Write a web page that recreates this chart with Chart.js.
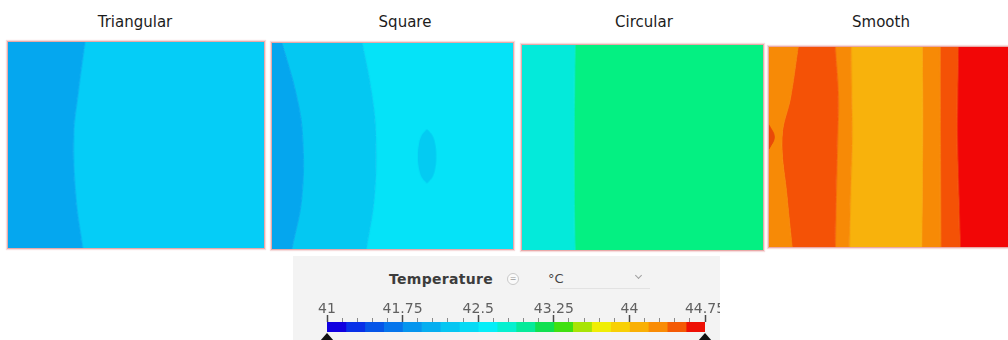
<!DOCTYPE html>
<html>
<head>
<meta charset="utf-8">
<script src="https://cdn.jsdelivr.net/npm/chart.js@4.4.0/dist/chart.umd.min.js"></script>
<style>
  html, body { margin: 0; padding: 0; background: #fff; }
  body { width: 1008px; height: 340px; position: relative; overflow: hidden; font-family: 'DejaVu Sans', sans-serif; }
  .title { position: absolute; top: 13px; width: 200px; text-align: center; font-size: 15px; line-height: 18px; color: #1c1c1c; }
  .panel { position: absolute; border: 1px solid #e9a9a9; box-shadow: 0 0 1px 1px rgba(242, 205, 205, 0.7); }
  #legendBox { position: absolute; left: 293px; top: 256px; width: 427px; height: 84px; background: #f3f3f3; overflow: hidden; }
  #legendBox .lbl { position: absolute; top: 14px; font-size: 13px; line-height: 18px; }
  #qty { left: 96px; font-size: 14px !important; font-weight: bold; color: #3c3c3c; letter-spacing: 0.3px; }
  #unit { left: 255px; color: #444; }
  #icon { position: absolute; left: 214px; top: 17px; width: 10px; height: 10px; border: 1px solid #c9c9c9; border-radius: 50%; font-size: 8px; line-height: 10px; text-align: center; color: #999; background: #fafafa; }
  #chev { position: absolute; left: 343px; top: 17px; width: 4px; height: 4px; border-right: 1px solid #a0a0a0; border-bottom: 1px solid #a0a0a0; transform: rotate(45deg); }
  #uline { position: absolute; left: 257px; top: 32px; width: 100px; height: 1px; background: #e2e2e2; }
  #scaleBar { position: absolute; left: 0; top: 40px; }
  .handle { position: absolute; top: 77px; width: 0; height: 0; border-left: 7px solid transparent; border-right: 7px solid transparent; border-bottom: 8px solid #111; }
</style>
</head>
<body>
<div class="title" style="left:35px">Triangular</div>
<div class="title" style="left:305px">Square</div>
<div class="title" style="left:544px">Circular</div>
<div class="title" style="left:781px">Smooth</div>

<canvas id="triangular" class="panel" width="258" height="208" style="left:7px; top:41px"></canvas>
<canvas id="square" class="panel" width="243" height="208" style="left:271px; top:42px"></canvas>
<canvas id="circular" class="panel" width="243" height="207" style="left:521px; top:44px"></canvas>
<canvas id="smooth" class="panel" width="241" height="202" style="left:768px; top:46px"></canvas>

<div id="legendBox">
  <div id="qty" class="lbl">Temperature</div>
  <div id="icon">=</div>
  <div id="unit" class="lbl">°C</div>
  <div id="chev"></div>
  <div id="uline"></div>
  <canvas id="scaleBar" width="467" height="44"></canvas>
  <div class="handle" style="left:27px"></div>
  <div class="handle" style="left:405px"></div>
</div>

<script>
// plate depth (0 = top edge, 100 = bottom edge) where contour edges were read
const depth = [0, 25, 45, 75, 100];
const plateLeft = [0, 0, 0, 0, 0];
const plateRight = [100, 100, 100, 100, 100];

// contour edges, % of plate width, left to right
const triEdges = [[30, 27.3, 25.6, 26.4, 29.1]];
const triColors = ['#05a7ef', '#05cdf7'];

const squareEdges = [
    [4.1, 10.0, 12.6, 12.3, 8.2],
    [37.4, 41.4, 43.0, 42.4, 39.1]
];
const squareColors = ['#05a6ee', '#04c8f2', '#05e3f8'];
const squareSpotDepth = [42, 45, 50, 55, 60, 65, 68];
const squareSpotLeft = [64.2, 62.0, 60.8, 60.5, 60.8, 62.0, 64.2];
const squareSpotRight = [64.2, 66.4, 67.6, 67.9, 67.6, 66.4, 64.2];

const circEdges = [[21.9, 21.7, 21.5, 21.6, 21.9]];
const circColors = ['#04eada', '#04f082'];

const smoothEdges = [
    [12.1, 9.0, 5.4, 7.5, 9.6],
    [27.6, 28.9, 28.6, 28.0, 27.6],
    [34.3, 34.5, 34.7, 34.0, 33.5],
    [64.0, 64.2, 64.2, 64.0, 63.8],
    [71.5, 71.5, 71.6, 71.7, 71.8],
    [79.1, 78.8, 78.7, 79.3, 79.9]
];
const smoothColors = ['#f78a06', '#f45206', '#f78a06', '#f8b20c', '#f78a06', '#f45206', '#f20606'];
const smoothNotchDepth = [39, 45, 51];
const smoothNotchLeft = [0, 0, 0];
const smoothNotchRight = [0, 2.2, 0];

// colour scale
const scaleMin = 41;
const scaleMax = 44.75;
const scaleStep = 0.15;
const bandColors = [
    '#1000e0', '#0830e8', '#0555e8', '#0575ec', '#0595ee',
    '#05aef0', '#05c6f2', '#05daf5', '#05eef8', '#05f0d0',
    '#05ea9a', '#10e050', '#40e010', '#a8e405', '#f0ee05',
    '#f8d005', '#f9b005', '#f98c05', '#f45a05', '#ee1005'
];

Chart.defaults.font.family = "'DejaVu Sans', sans-serif";

function lineSet(xs, ys, color, fill) {
    return {
        data: ys.map((y, k) => ({ x: xs[k], y: y })),
        fill: fill,
        backgroundColor: color || 'transparent',
        borderColor: color || 'transparent',
        borderWidth: color ? 1 : 0,
        pointRadius: 0,
        tension: 0.4
    };
}

function contourPanel(id, edges, colors, extras) {
    const sets = [];
    // spots go first so they are painted on top
    (extras || []).forEach(e => {
        sets.push(lineSet(e.left, e.depth, null, false));
        sets.push(lineSet(e.right, e.depth, e.color, '-1'));
    });
    sets.push(lineSet(plateLeft, depth, null, false));
    edges.concat([plateRight]).forEach((xs, i) => {
        sets.push(lineSet(xs, depth, colors[i], '-1'));
    });

    new Chart(document.getElementById(id), {
        type: 'line',
        data: { datasets: sets },
        options: {
            indexAxis: 'y',
            animation: false,
            responsive: false,
            layout: { padding: 0 },
            plugins: { legend: { display: false }, tooltip: { enabled: false } },
            scales: {
                x: { type: 'linear', min: 0, max: 100, display: false },
                y: { type: 'linear', min: 0, max: 100, reverse: true, display: false }
            }
        }
    });
}

contourPanel('triangular', triEdges, triColors);
contourPanel('square', squareEdges, squareColors, [
    { depth: squareSpotDepth, left: squareSpotLeft, right: squareSpotRight, color: '#04cbf2' }
]);
contourPanel('circular', circEdges, circColors);
contourPanel('smooth', smoothEdges, smoothColors, [
    { depth: smoothNotchDepth, left: smoothNotchLeft, right: smoothNotchRight, color: '#e94a08' }
]);

// --- colour bar ---
const bandWidth = (scaleMax - scaleMin) / bandColors.length;

new Chart(document.getElementById('scaleBar'), {
    type: 'bar',
    data: {
        labels: ['T'],
        datasets: bandColors.map((c, i) => ({
            data: [[scaleMin + i * bandWidth, scaleMin + (i + 1) * bandWidth]],
            backgroundColor: c,
            borderWidth: 0,
            grouped: false,
            barPercentage: 1,
            categoryPercentage: 1
        }))
    },
    options: {
        indexAxis: 'y',
        animation: false,
        responsive: false,
        layout: { padding: { left: 34, right: 55, top: 0, bottom: 8 } },
        plugins: { legend: { display: false }, tooltip: { enabled: false } },
        scales: {
            x: {
                type: 'linear',
                position: 'top',
                min: scaleMin,
                max: scaleMax,
                border: { display: false },
                grid: {
                    drawOnChartArea: false,
                    tickLength: 7,
                    tickColor: ctx => ctx.index % 5 === 0 ? '#4a4a4a' : '#8a8a8a',
                    tickWidth: ctx => ctx.index % 5 === 0 ? 1.5 : 1,
                    tickBorderDash: ctx => ctx.index % 5 === 0 ? [] : [4, 3],
                    tickBorderDashOffset: ctx => ctx.index % 5 === 0 ? 0 : 4
                },
                ticks: {
                    stepSize: scaleStep,
                    autoSkip: false,
                    maxRotation: 0,
                    padding: -3,
                    color: '#606060',
                    font: { size: 14 },
                    callback: (v, i) => i % 5 === 0 ? String(parseFloat(v.toFixed(2))) : ''
                },
                afterFit: s => { s.height = 26; }
            },
            y: { display: false }
        }
    }
});
</script>
</body>
</html>
